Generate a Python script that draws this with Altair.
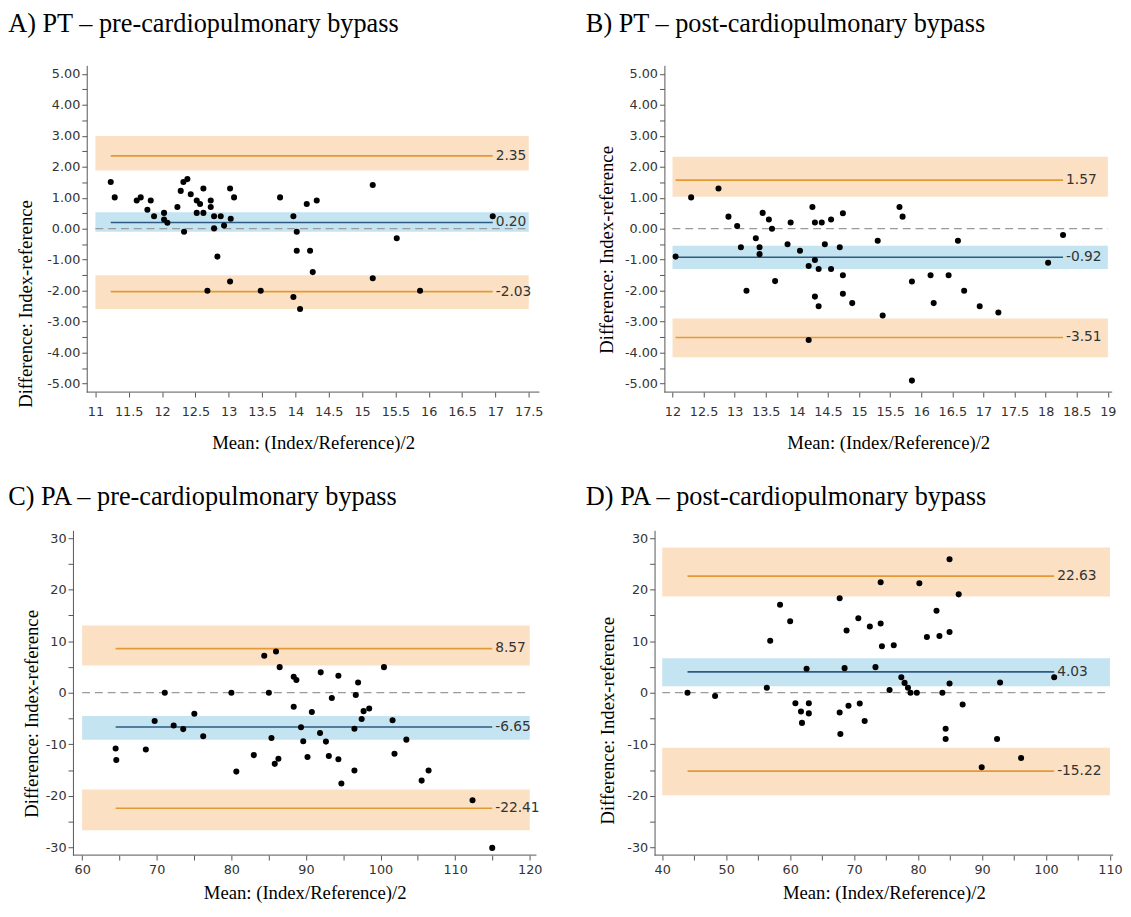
import altair as alt
import pandas as pd

# ---------------- data ----------------
A_MEAN = [11.23, 11.29, 11.62, 11.68, 11.83, 11.78, 11.88, 12.03, 12.03, 12.08, 12.23, 12.28, 12.32, 12.38,
          12.43, 12.33, 12.52, 12.57, 12.62, 12.52, 12.62, 12.73, 12.73, 12.78, 12.78, 12.88, 12.93, 13.02,
          13.08, 13.03, 12.83, 13.02, 12.68, 13.48, 13.77, 13.97, 14.02, 14.02, 14.22, 14.17, 14.32, 14.26,
          13.97, 14.07, 15.16, 15.52, 15.16, 15.87, 16.96]
A_DIFF = [1.51, 1.01, 0.91, 1.01, 0.91, 0.61, 0.40, 0.51, 0.30, 0.19, 0.70, 1.22, 1.51, 1.60,
          1.11, -0.10, 0.91, 0.80, 1.30, 0.51, 0.51, 0.91, 0.70, 0.40, 0.01, 0.40, 0.10, 1.30,
          1.01, 0.32, -0.90, -1.70, -2.00, -2.00, 1.01, 0.40, -0.10, -0.71, -0.71, 0.80, 0.91, -1.40,
          -2.20, -2.59, 1.41, -0.31, -1.60, -2.00, 0.40]
A_LIMITS = [2.35, 0.20, -2.03]
A_BAND_LO = [1.88, -0.10, -2.59]
A_BAND_HI = [2.99, 0.53, -1.50]

B_MEAN = [12.05, 12.30, 12.74, 12.90, 13.04, 13.10, 13.19, 13.34, 13.40, 13.40, 13.45, 13.55, 13.60, 13.65,
          13.85, 13.90, 14.05, 14.19, 14.19, 14.25, 14.29, 14.29, 14.35, 14.29, 14.35, 14.40, 14.45, 14.55,
          14.55, 14.69, 14.74, 14.74, 14.74, 14.89, 15.30, 15.38, 15.65, 15.70, 15.85, 15.85, 16.15, 16.20,
          16.44, 16.59, 16.69, 16.94, 17.24, 18.04, 18.28]
B_DIFF = [-0.90, 1.01, 1.30, 0.39, 0.09, -0.60, -2.00, -0.31, -0.60, -0.82, 0.51, 0.30, 0.00, -1.69,
          -0.50, 0.20, -0.71, -3.59, -1.20, 0.70, 0.20, -1.01, -1.30, -2.19, -2.50, 0.20, -0.50, 0.30,
          -1.30, -0.60, 0.50, -1.50, -2.10, -2.40, -0.39, -2.80, 0.70, 0.39, -1.70, -4.90, -1.50, -2.40,
          -1.50, -0.39, -2.00, -2.50, -2.70, -1.10, -0.20]
B_LIMITS = [1.57, -0.92, -3.51]
B_BAND_LO = [1.03, -1.30, -4.15]
B_BAND_HI = [2.32, -0.55, -2.90]

C_MEAN = [64.49, 64.58, 68.54, 69.72, 71.08, 72.27, 73.55, 75.04, 76.23, 80.01, 80.67, 83.01, 84.41, 85.99,
          86.48, 85.03, 85.38, 85.82, 86.31, 88.36, 88.72, 88.36, 89.34, 89.64, 90.21, 90.79, 91.98, 91.89,
          92.68, 93.07, 93.47, 94.35, 94.35, 94.75, 96.50, 96.50, 96.68, 96.99, 97.47, 97.73, 98.48, 100.46,
          101.61, 101.87, 103.46, 105.51, 106.44, 112.33, 114.97]
C_DIFF = [-10.82, -13.04, -11.01, -5.47, 0.0, -6.36, -7.06, -4.07, -8.46, 0.0, -15.3, -12.1, 7.19, 8.0,
          4.96, 0.0, -8.78, -13.8, -12.8, 3.11, 2.48, -2.73, -6.68, -9.41, -12.47, -3.75, 3.95, -7.82,
          -9.48, -12.27, -1.01, 3.30, -12.92, -17.6, -7.0, -15.08, -0.44, 1.97, -5.09, -3.57, -3.05, 4.96,
          -5.34, -11.83, -9.1, -17.05, -15.08, -20.86, -30.1]
C_LIMITS = [8.57, -6.65, -22.41]
C_BAND_LO = [5.28, -9.10, -26.7]
C_BAND_HI = [13.03, -4.52, -18.76]

D_MEAN = [43.95, 48.26, 56.35, 56.88, 58.42, 60.0, 60.82, 62.92, 61.69, 62.92, 61.85, 62.57, 67.74, 67.85,
          67.74, 68.51, 68.82, 69.12, 70.66, 70.88, 71.65, 72.46, 73.34, 74.15, 74.15, 74.35, 76.2, 75.54,
          77.38, 77.89, 78.42, 78.82, 79.8, 80.2, 81.38, 82.88, 83.34, 83.8, 84.31, 84.31, 84.92, 84.92,
          84.92, 86.35, 86.97, 89.95, 92.35, 92.82, 96.11, 101.28]
D_DIFF = [0.0, -0.64, 0.95, 10.1, 17.05, 13.87, -2.04, -2.04, -3.63, -4.01, -5.85, 4.64, -3.82, -8.02,
          18.32, 4.77, 12.08, -2.54, 14.45, -2.10, -5.48, 12.84, 4.96, 13.42, 21.43, 9.03, 9.22, 0.52,
          3.0, 1.91, 0.95, 0.0, 0.0, 21.24, 10.82, 15.9, 11.01, 0.0, -7.0, -8.97, 25.9, 11.77,
          1.78, 19.08, -2.29, -14.45, -8.97, 1.97, -12.65, 3.0]
D_LIMITS = [22.63, 4.03, -15.22]
D_BAND_LO = [18.65, 1.28, -19.9]
D_BAND_HI = [28.19, 6.68, -10.69]

TITLES = ["A) PT \u2013 pre-cardiopulmonary bypass", "B) PT \u2013 post-cardiopulmonary bypass",
          "C) PA \u2013 pre-cardiopulmonary bypass", "D) PA \u2013 post-cardiopulmonary bypass"]
X_TITLE = "Mean: (Index/Reference)/2"
Y_TITLE = "Difference: Index-reference"

PT_Y_TICKS = [i * 0.5 for i in range(-10, 11)]
PA_Y_TICKS = [i * 5 for i in range(-6, 7)]
A_X_TICKS = [11 + i * 0.5 for i in range(0, 14)]
B_X_TICKS = [12 + i * 0.5 for i in range(0, 15)]
C_X_TICKS = [60 + i * 5 for i in range(0, 13)]
D_X_TICKS = [40 + i * 5 for i in range(0, 15)]

# ---------------- style ----------------
ORANGE_BAND = "#fbe0c4"
BLUE_BAND = "#c5e4f1"
ORANGE_LINE = "#e49a34"
BLUE_LINE = "#2c5a83"
ZERO_LINE = "#9a9a9a"
AXIS_GREY = "#555555"
SERIF = "Liberation Serif"
SANS = "DejaVu Sans"

PT_Y_EXPR = "datum.value % 1 == 0 ? (datum.value < 0 ? '-' : '') + format(abs(datum.value), '.2f') : ''"
PA_Y_EXPR = "datum.value % 10 == 0 ? (datum.value < 0 ? '-' : '') + format(abs(datum.value), 'd') : ''"
PT_X_EXPR = "format(datum.value, '~g')"
PA_X_EXPR = "datum.value % 10 == 0 ? format(datum.value, 'd') : ''"


def base_axis(**extra):
    kw = dict(grid=False, labelOverlap=False,
              domainColor=AXIS_GREY, tickColor=AXIS_GREY, tickSize=5,
              labelColor="#333333", labelFont=SANS, labelFontSize=13,
              titleFont=SERIF, titleFontSize=19, titleFontWeight="normal", titleColor="black")
    kw.update(extra)
    return alt.Axis(**kw)


def panel(title, xs, ys, limits, lo, hi, xdom, ydom, band_x, xticks, xexpr, yticks, yexpr,
          w, h, ytitle_x, ytitle_y, xlabel_pad, xtitle_pad, title_dx, title_off,
          yaxis_offset=0, xrange=None):
    if xrange is None:
        xscale = alt.Scale(domain=xdom, nice=False, zero=False)
    else:
        xscale = alt.Scale(domain=xdom, nice=False, zero=False, range=xrange)
    yscale = alt.Scale(domain=ydom, nice=False, zero=False)
    xax = base_axis(values=xticks, labelExpr=xexpr, title=X_TITLE, labelPadding=xlabel_pad,
                    titlePadding=xtitle_pad, domain=False)
    yax = base_axis(values=yticks, labelExpr=yexpr, title=Y_TITLE, labelPadding=2,
                    titleX=ytitle_x, titleY=ytitle_y, titleAngle=270, titleAlign="center",
                    titleBaseline="alphabetic", offset=yaxis_offset)

    def X(f):
        return alt.X(f, type="quantitative", scale=xscale, axis=xax)

    def Y(f):
        return alt.Y(f, type="quantitative", scale=yscale, axis=yax)

    bands = pd.DataFrame({"x0": [band_x[0]] * 3, "x1": [band_x[1]] * 3, "lo": lo, "hi": hi,
                          "fill": [ORANGE_BAND, BLUE_BAND, ORANGE_BAND]})
    zero = pd.DataFrame({"x0": [band_x[0]], "x1": [band_x[1]], "v": [0.0]})
    base = pd.DataFrame({"x0": [xdom[0]], "x1": [xdom[1]], "v": [ydom[0]]})
    lines = pd.DataFrame({"x0": [min(xs)] * 3, "x1": [max(xs)] * 3, "v": limits,
                          "c": [ORANGE_LINE, BLUE_LINE, ORANGE_LINE],
                          "label": [f"{v:.2f}" for v in limits]})
    pts = pd.DataFrame({"m": xs, "d": ys})

    l_band = alt.Chart(bands).mark_rect().encode(
        x=X("x0"), x2="x1", y=Y("lo"), y2="hi", color=alt.Color("fill:N", scale=None))
    l_base = alt.Chart(base).mark_rule(color=AXIS_GREY, strokeWidth=1).encode(
        x=X("x0"), x2="x1", y=Y("v"))
    l_zero = alt.Chart(zero).mark_rule(color=ZERO_LINE, strokeDash=[8, 5], strokeWidth=1.3).encode(
        x=X("x0"), x2="x1", y=Y("v"))
    l_lines = alt.Chart(lines).mark_rule(strokeWidth=1.7).encode(
        x=X("x0"), x2="x1", y=Y("v"), color=alt.Color("c:N", scale=None))
    l_pts = alt.Chart(pts).mark_circle(size=38, color="black", opacity=1).encode(
        x=X("m"), y=Y("d"))
    l_text = alt.Chart(lines).mark_text(align="left", baseline="middle", dx=3, font=SANS,
                                        fontSize=14, color="#333333").encode(
        x=X("x1"), y=Y("v"), text="label:N")

    return alt.layer(l_band, l_base, l_zero, l_lines, l_pts, l_text).properties(
        width=w, height=h,
        title=alt.TitleParams(title, anchor="start", font=SERIF, fontSize=26.7, fontWeight="normal",
                              color="black", dx=title_dx, offset=title_off))


pA = panel(TITLES[0], A_MEAN, A_DIFF, A_LIMITS, A_BAND_LO, A_BAND_HI, [10.87, 17.66], [-5.27, 5.27],
           [11.0, 17.5], A_X_TICKS, PT_X_EXPR, PT_Y_TICKS, PT_Y_EXPR, 460, 332,
           -56.5, 242, 9, 15, -8.3, 28.5)
pB = panel(TITLES[1], B_MEAN, B_DIFF, B_LIMITS, B_BAND_LO, B_BAND_HI, [11.87, 19.07], [-5.27, 5.27],
           [12.0, 19.0], B_X_TICKS, PT_X_EXPR, PT_Y_TICKS, PT_Y_EXPR, 455, 332,
           -53, 187, 9, 15, -11.8, 28.5)
pC = panel(TITLES[2], C_MEAN, C_DIFF, C_LIMITS, C_BAND_LO, C_BAND_HI, [58.77, 120.9], [-31.5, 31.5],
           [60.0, 120.0], C_X_TICKS, PA_X_EXPR, PA_Y_TICKS, PA_Y_EXPR, 457, 330,
           -36.5, 186, 4, 7, -14.3, 19.7, yaxis_offset=14, xrange=[-14, 457])
pD = panel(TITLES[3], D_MEAN, D_DIFF, D_LIMITS, D_BAND_LO, D_BAND_HI, [38.8, 110.5], [-31.5, 31.5],
           [40.0, 110.0], D_X_TICKS, PA_X_EXPR, PA_Y_TICKS, PA_Y_EXPR, 466, 330,
           -42, 193, 4, 7, -12.8, 19.7)

chart = alt.concat(pA, pB, pC, pD, columns=2, align="none",
                   spacing={"row": 32.5, "column": 36}).properties(
    padding={"left": 0, "top": -5, "right": 0, "bottom": 0}
).configure_view(stroke=None)

chart.save("out.html", embed_options={"renderer": "svg", "actions": False})
